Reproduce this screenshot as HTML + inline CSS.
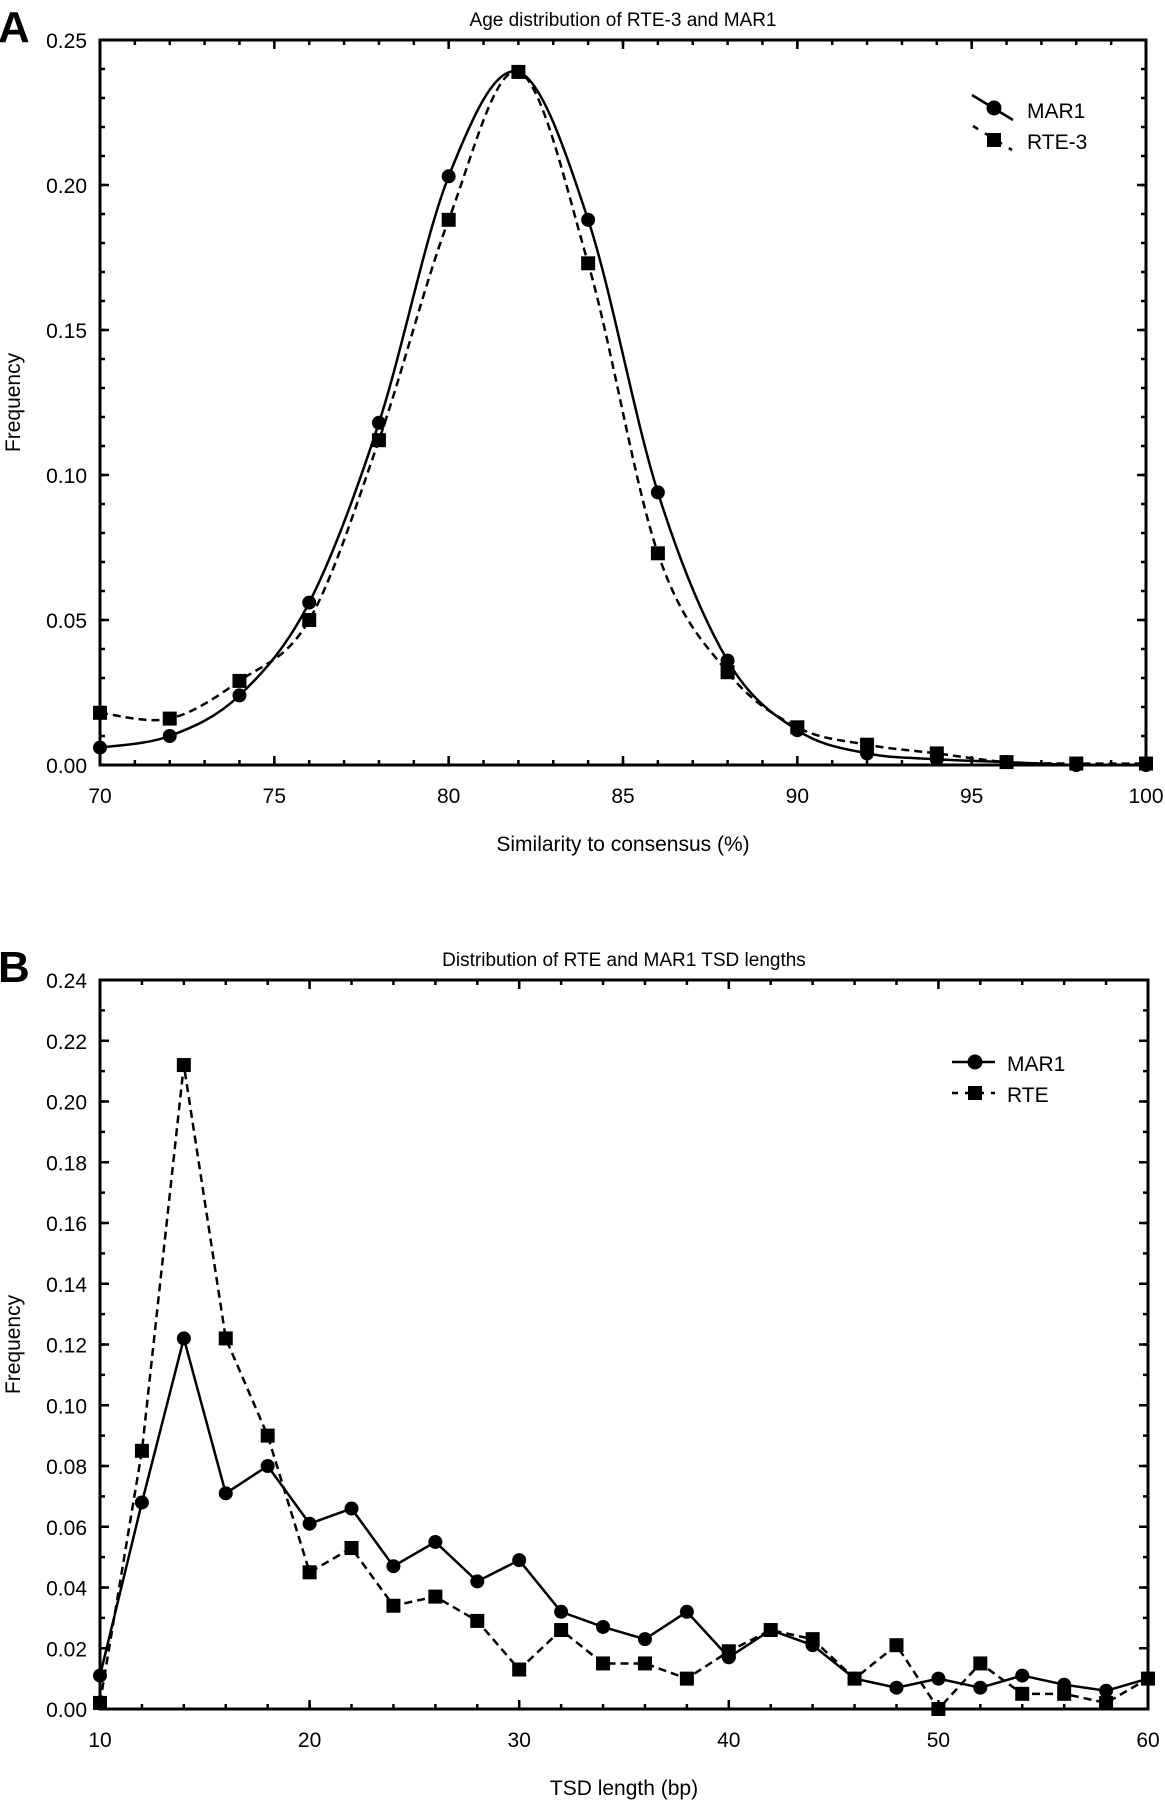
<!DOCTYPE html>
<html><head><meta charset="utf-8"><style>
html,body{margin:0;padding:0;background:#fff;}
svg{display:block;font-family:"Liberation Sans",sans-serif;}
</style></head><body>
<svg id="fig" width="1165" height="1800" viewBox="0 0 1165 1800" xmlns="http://www.w3.org/2000/svg"></svg>
<script>
// Panel A data
const ageX = [70,72,74,76,78,80,82,84,86,88,90,92,94,96,98,100];
const ageMAR1 = [0.006,0.010,0.024,0.056,0.118,0.203,0.239,0.188,0.094,0.036,0.012,0.004,0.002,0.001,0.000,0.000];
const ageRTE3 = [0.018,0.016,0.029,0.050,0.112,0.188,0.239,0.173,0.073,0.032,0.013,0.007,0.004,0.001,0.0005,0.0005];
const ageXTicks = [70,75,80,85,90,95,100];
const ageYTicks = [0,0.05,0.10,0.15,0.20,0.25];
// Panel B data
const tsdX = [10,12,14,16,18,20,22,24,26,28,30,32,34,36,38,40,42,44,46,48,50,52,54,56,58,60];
const tsdMAR1 = [0.011,0.068,0.122,0.071,0.080,0.061,0.066,0.047,0.055,0.042,0.049,0.032,0.027,0.023,0.032,0.017,0.026,0.021,0.010,0.007,0.010,0.007,0.011,0.008,0.006,0.010];
const tsdRTE = [0.002,0.085,0.212,0.122,0.090,0.045,0.053,0.034,0.037,0.029,0.013,0.026,0.015,0.015,0.010,0.019,0.026,0.023,0.010,0.021,0.000,0.015,0.005,0.005,0.002,0.010];
const tsdXTicks = [10,20,30,40,50,60];
const tsdYTicks = [0,0.02,0.04,0.06,0.08,0.10,0.12,0.14,0.16,0.18,0.20,0.22,0.24];

const svg = document.getElementById('fig');
const NS = 'http://www.w3.org/2000/svg';
function mk(tag, attrs, parent){
  const e = document.createElementNS(NS, tag);
  for (const k in attrs) e.setAttribute(k, attrs[k]);
  (parent||svg).appendChild(e);
  return e;
}
function txt(s, x, y, size, anchor, parent){
  const t = mk('text', {x:x, y:y, 'font-size':size, 'text-anchor':anchor||'middle', fill:'#000'}, parent);
  t.textContent = s;
  return t;
}
function catmull(pts){
  let d = 'M' + pts[0][0] + ',' + pts[0][1];
  for (let i=0;i<pts.length-1;i++){
    const p0=pts[Math.max(0,i-1)], p1=pts[i], p2=pts[i+1], p3=pts[Math.min(pts.length-1,i+2)];
    const c1x=p1[0]+(p2[0]-p0[0])/6, c1y=p1[1]+(p2[1]-p0[1])/6;
    const c2x=p2[0]-(p3[0]-p1[0])/6, c2y=p2[1]-(p3[1]-p1[1])/6;
    d += ' C'+c1x+','+c1y+' '+c2x+','+c2y+' '+p2[0]+','+p2[1];
  }
  return d;
}

function panel(cfg){
  const g = mk('g', {});
  
  
  const sx = v => cfg.L + (v - cfg.x0)/(cfg.x1 - cfg.x0)*(cfg.R - cfg.L);
  const sy = v => cfg.B - (v - cfg.y0)/(cfg.y1 - cfg.y0)*(cfg.B - cfg.T);
  for (let v=cfg.x0; v<=cfg.x1+1e-9; v+=cfg.xMinor){
    mk('line',{x1:sx(v),x2:sx(v),y1:cfg.B,y2:cfg.B-5,stroke:'#000','stroke-width':2.5},g);
    mk('line',{x1:sx(v),x2:sx(v),y1:cfg.T,y2:cfg.T+5,stroke:'#000','stroke-width':2.5},g);
  }
  for (let v=cfg.y0; v<=cfg.y1+1e-9; v+=cfg.yMinor){
    mk('line',{x1:cfg.L,x2:cfg.L+5,y1:sy(v),y2:sy(v),stroke:'#000','stroke-width':2.5},g);
    mk('line',{x1:cfg.R,x2:cfg.R-5,y1:sy(v),y2:sy(v),stroke:'#000','stroke-width':2.5},g);
  }
  cfg.xTicks.forEach(v=>{
    mk('line',{x1:sx(v),x2:sx(v),y1:cfg.B,y2:cfg.B-9,stroke:'#000','stroke-width':2.5},g);
    mk('line',{x1:sx(v),x2:sx(v),y1:cfg.T,y2:cfg.T+9,stroke:'#000','stroke-width':2.5},g);
    const t = txt(String(v), sx(v), cfg.B+38, 21, 'middle', g);
    
    
  });
  cfg.yTicks.forEach(v=>{
    mk('line',{x1:cfg.L,x2:cfg.L+9,y1:sy(v),y2:sy(v),stroke:'#000','stroke-width':2.5},g);
    mk('line',{x1:cfg.R,x2:cfg.R-9,y1:sy(v),y2:sy(v),stroke:'#000','stroke-width':2.5},g);
    const t = txt(v.toFixed(2), cfg.L-13, sy(v)+8, 21, 'end', g);
    
    
  });
  const frame = mk('rect',{x:cfg.L,y:cfg.T,width:cfg.R-cfg.L,height:cfg.B-cfg.T,fill:'none',stroke:'#000','stroke-width':3},g);
  
  
  const p1 = cfg.xs.map((x,i)=>[sx(x), sy(cfg.s1[i])]);
  const p2 = cfg.xs.map((x,i)=>[sx(x), sy(cfg.s2[i])]);
  const d1 = cfg.smooth ? catmull(p1) : 'M'+p1.map(p=>p.join(',')).join(' L');
  const d2 = cfg.smooth ? catmull(p2) : 'M'+p2.map(p=>p.join(',')).join(' L');
  const l2 = mk('path',{d:d2,fill:'none',stroke:'#000','stroke-width':2.5,'stroke-dasharray':'8,5'},g);
  
  
  const l1 = mk('path',{d:d1,fill:'none',stroke:'#000','stroke-width':2.5},g);
  
  
  p2.forEach(p=>{
    const r = mk('rect',{x:p[0]-7,y:p[1]-7,width:14,height:14,fill:'#000'},g);
    
    
  });
  p1.forEach(p=>{
    const c = mk('circle',{cx:p[0],cy:p[1],r:7,fill:'#000'},g);
    
    
  });
  const tt = txt(cfg.title, (cfg.L+cfg.R)/2, cfg.T-14, 19, 'middle', g);
  
  
  const xt = txt(cfg.xTitle, (cfg.L+cfg.R)/2, cfg.xTitleY, 21, 'middle', g);
  
  
  const yt = txt('Frequency', 0, 0, 21, 'middle', g);
  yt.setAttribute('transform','translate(20,'+((cfg.T+cfg.B)/2)+') rotate(-90)');
  
  
  const pl = txt(cfg.letter, -2, cfg.T+2, 44, 'start', g);
  pl.setAttribute('font-weight','bold');
  
  
  return {sx, sy, g};
}

const A = panel({name:'age-distribution-chart', L:100,R:1146,T:40,B:765, x0:70,x1:100,y0:0,y1:0.25,
  xMinor:1,yMinor:0.01, xTicks:ageXTicks,yTicks:ageYTicks, xs:ageX,s1:ageMAR1,s2:ageRTE3, smooth:true,
  n1:'mar1',n2:'rte3', title:'Age distribution of RTE-3 and MAR1', xTitle:'Similarity to consensus (%)', xTitleY:851, letter:'A'});
const Bp = panel({name:'tsd-length-chart', L:100,R:1148,T:980,B:1709, x0:10,x1:60,y0:0,y1:0.24,
  xMinor:2,yMinor:0.01, xTicks:tsdXTicks,yTicks:tsdYTicks, xs:tsdX,s1:tsdMAR1,s2:tsdRTE, smooth:false,
  n1:'mar1',n2:'rte', title:'Distribution of RTE and MAR1 TSD lengths', xTitle:'TSD length (bp)', xTitleY:1795, letter:'B'});

const legA = mk('g',{});


mk('line',{x1:972,y1:95,x2:1013,y2:120,stroke:'#000','stroke-width':2.5},legA);
mk('circle',{cx:994,cy:108,r:7.5,fill:'#000'},legA);
mk('line',{x1:973,y1:126,x2:1012,y2:150,stroke:'#000','stroke-width':2.5,'stroke-dasharray':'6,8'},legA);
mk('rect',{x:987,y:133,width:14,height:14,fill:'#000'},legA);
const la1 = txt('MAR1', 1027, 118, 21, 'start', legA);


const la2 = txt('RTE-3', 1027, 149, 21, 'start', legA);



const legB = mk('g',{});


mk('line',{x1:952,y1:1062,x2:995,y2:1062,stroke:'#000','stroke-width':2.5},legB);
mk('circle',{cx:975,cy:1062,r:7.5,fill:'#000'},legB);
mk('line',{x1:952,y1:1093,x2:995,y2:1093,stroke:'#000','stroke-width':2.5,'stroke-dasharray':'6,7'},legB);
mk('rect',{x:968,y:1086,width:14,height:14,fill:'#000'},legB);
const lb1 = txt('MAR1', 1007, 1071, 21, 'start', legB);


const lb2 = txt('RTE', 1007, 1102, 21, 'start', legB);


</script>
</body></html>
